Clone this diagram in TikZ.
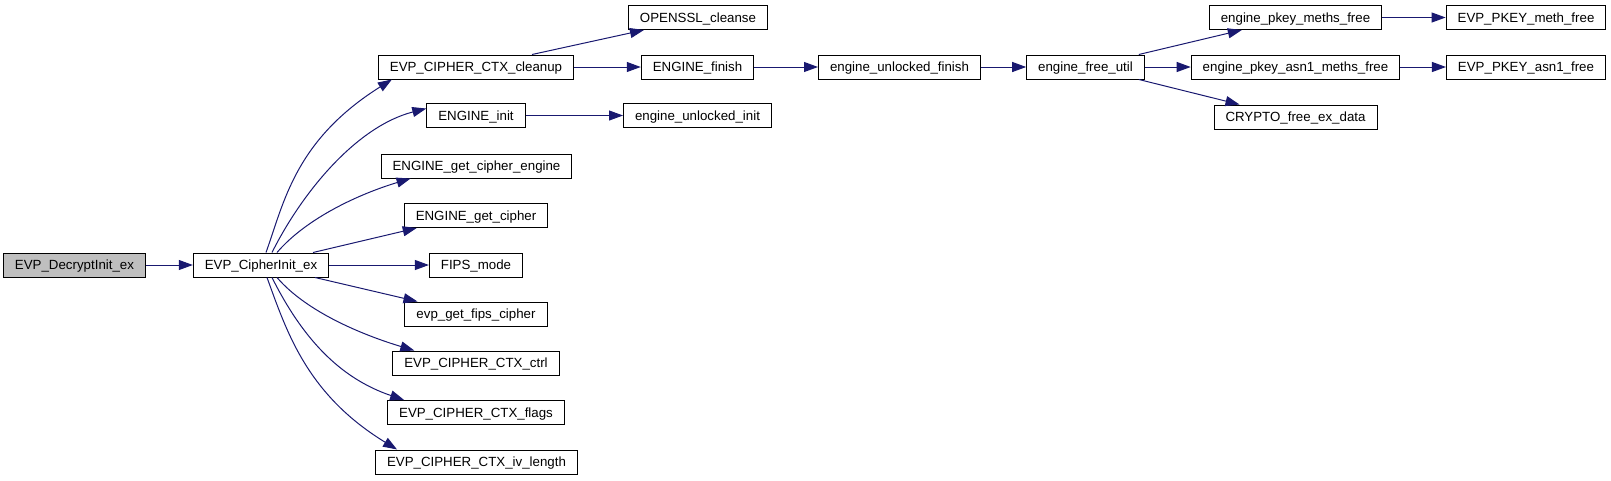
\documentclass[tikz,border=0pt]{standalone}
\usepackage{fontspec}
\setmainfont{Liberation Sans}
\usetikzlibrary{arrows.meta}
\definecolor{edgeblue}{HTML}{191970}

\begin{document}
\begin{tikzpicture}[x=1pt,y=-1pt,
  fn/.style={draw,line width=1pt,minimum height=24pt,inner xsep=11.5pt,inner ysep=0pt,
    font=\fontsize{13.3}{16}\selectfont,text height=12pt,text depth=2.5pt},
  call/.style={-{Triangle[length=14pt,width=10pt]},edgeblue,line width=1pt}]
 \useasboundingbox (0,0) rectangle (1611,480);

 \node[fn,fill=black!25] (decrypt) at (74.5,265) {EVP\_DecryptInit\_ex};
 \node[fn] (cipherinit) at (261,265)   {EVP\_CipherInit\_ex};
 \node[fn] (cleanse)    at (698,17.5)  {OPENSSL\_cleanse};
 \node[fn] (cleanup)    at (476,67)    {EVP\_CIPHER\_CTX\_cleanup};
 \node[fn] (finish)     at (697.5,67)  {ENGINE\_finish};
 \node[fn] (init)       at (476,115.5) {ENGINE\_init};
 \node[fn] (uinit)      at (697.5,115.5) {engine\_unlocked\_init};
 \node[fn] (getengine)  at (476.5,166) {ENGINE\_get\_cipher\_engine};
 \node[fn] (getcipher)  at (476,215.5) {ENGINE\_get\_cipher};
 \node[fn] (fips)       at (476,265)   {FIPS\_mode};
 \node[fn] (fipscipher) at (476,314)   {evp\_get\_fips\_cipher};
 \node[fn] (ctrl)       at (476,363)   {EVP\_CIPHER\_CTX\_ctrl};
 \node[fn] (flags)      at (476,412.5) {EVP\_CIPHER\_CTX\_flags};
 \node[fn] (ivlen)      at (476.5,462) {EVP\_CIPHER\_CTX\_iv\_length};
 \node[fn] (ufinish)    at (899.5,67)  {engine\_unlocked\_finish};
 \node[fn] (freeutil)   at (1085.5,67) {engine\_free\_util};
 \node[fn] (pmeths)     at (1295.5,17.5) {engine\_pkey\_meths\_free};
 \node[fn] (pmethfree)  at (1526,17.5) {EVP\_PKEY\_meth\_free};
 \node[fn] (asn1meths)  at (1295.5,67) {engine\_pkey\_asn1\_meths\_free};
 \node[fn] (asn1free)   at (1526,67)   {EVP\_PKEY\_asn1\_free};
 \node[fn] (freeex)     at (1295.5,117) {CRYPTO\_free\_ex\_data};

 \draw[call] (decrypt) -- (cipherinit);
 \draw[call] ([xshift=5pt]cipherinit.north) .. controls +(18,-50) and +(-97,61) .. ([xshift=14pt]cleanup.south west);
 \draw[call] ([xshift=11pt]cipherinit.north) .. controls +(30,-60) and +(-70,18) .. ([yshift=7pt]init.west);
 \draw[call] ([xshift=16pt]cipherinit.north) .. controls +(30,-35) and +(-50,15) .. ([xshift=30pt]getengine.south west);
 \draw[call] ([xshift=52pt]cipherinit.north) -- ([xshift=13pt]getcipher.south west);
 \draw[call] (cipherinit) -- (fips);
 \draw[call] ([xshift=54pt]cipherinit.south) -- ([xshift=13pt]fipscipher.north west);
 \draw[call] ([xshift=16pt]cipherinit.south) .. controls +(30,35) and +(-50,-15) .. ([xshift=22pt]ctrl.north west);
 \draw[call] ([xshift=11pt]cipherinit.south) .. controls +(30,60) and +(-65,-22) .. ([xshift=17pt]flags.north west);
 \draw[call] ([xshift=6pt]cipherinit.south) .. controls +(20,55) and +(-90,-55) .. ([xshift=22pt]ivlen.north west);

 \draw[call] ([xshift=56pt]cleanup.north) -- ([xshift=16pt]cleanse.south west);
 \draw[call] (cleanup) -- (finish);
 \draw[call] (init) -- (uinit);
 \draw[call] (finish) -- (ufinish);
 \draw[call] (ufinish) -- (freeutil);
 \draw[call] ([xshift=-6pt]freeutil.north east) -- ([xshift=33pt]pmeths.south west);
 \draw[call] (freeutil) -- (asn1meths);
 \draw[call] ([xshift=-6pt]freeutil.south east) -- ([xshift=26pt]freeex.north west);
 \draw[call] (pmeths) -- (pmethfree);
 \draw[call] (asn1meths) -- (asn1free);
\end{tikzpicture}
\end{document}
